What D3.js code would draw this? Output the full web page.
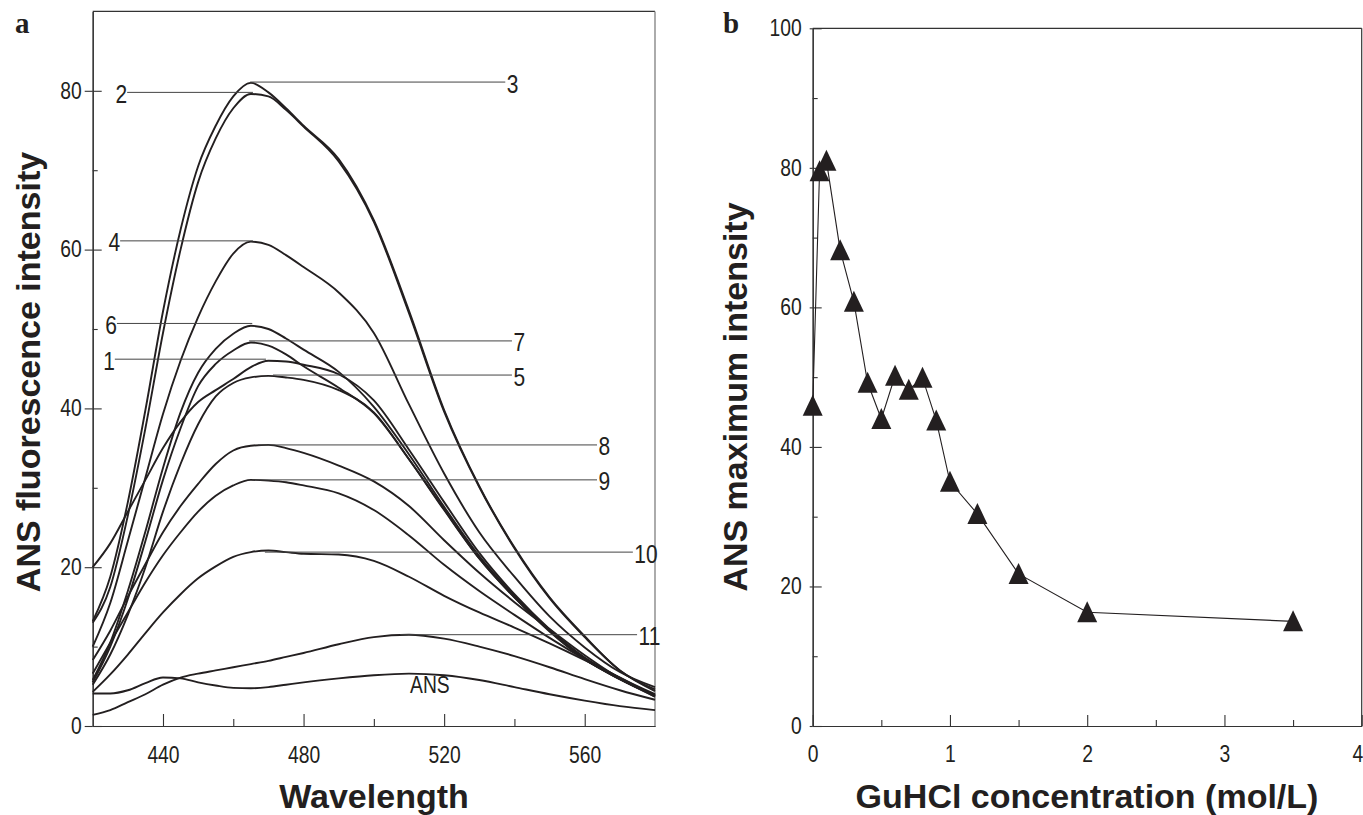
<!DOCTYPE html>
<html>
<head>
<meta charset="utf-8">
<script src="https://cdn.jsdelivr.net/npm/d3@7"></script>
<style>
  body { margin: 0; background: #fff; }
  svg { display: block; }
  .tick text { font-family: "Liberation Sans", Arial, sans-serif; font-size: 23px; fill: #231f20; }
  .title { font-family: "Liberation Sans", Arial, sans-serif; font-weight: bold; font-size: 34px; fill: #231f20; }
  .panel { font-family: "Liberation Serif", "Times New Roman", serif; font-weight: bold; font-size: 29px; fill: #231f20; }
  .lab { font-family: "Liberation Sans", Arial, sans-serif; font-size: 25px; fill: #231f20; }
</style>
</head>
<body>
<svg id="chart" width="1363" height="815"></svg>
<script>
// panel a: emission spectra
var wavelengths = [420,425,430,435,440,445,450,455,460,465,470,475,480,490,500,510,520,530,540,550,560,570,580];
var curve1  = [20,23,27,31,35,38.3,40.8,42.3,43.7,45.2,46,45.9,45.5,44.3,41,34.8,28.2,21.8,16.6,12.2,8.6,6.1,4.0];
var curve2  = [13,17.5,26.5,37.5,49.5,60,68.5,74,77.8,79.6,79.3,77.6,75.5,71.1,63.5,52,39.6,30.1,22.4,16.1,11.2,7.0,4.4];
var curve3  = [13.2,18.8,28.2,39.8,52.2,62.5,70.5,75.6,79.3,81,79.8,77.8,75.6,71.4,63.7,52.3,39.8,30.2,22.5,16.2,11.3,7.0,4.6];
var curve4  = [10,15.5,23.3,31.3,39.3,46,51.5,56,59.5,61,60.6,59.3,57.8,54.6,49.5,40.5,31.8,24.4,18.8,13.8,9.9,6.8,4.9];
var curve5  = [5.2,9,14,20,27,33,38,41.5,43.2,43.9,44.1,43.9,43.6,42.3,39.5,33.6,27.3,21.1,16.2,12,8.4,5.9,3.7];
var curve6  = [5.8,10.5,17,24.5,32.5,39.5,44.5,47.5,49.4,50.4,50,48.8,47.4,44.6,40.2,34.2,27.6,21.4,16.4,12.1,8.6,6.0,3.9];
var curve7  = [5.5,10,16,23.3,31,37.5,42.8,45.6,47.3,48.3,47.9,46.8,45.3,42.6,39.4,33.6,27.2,21.1,16.2,11.9,8.4,5.9,3.8];
var curve8  = [8.3,12,16.3,20.4,24.4,27.7,30.5,33,34.7,35.3,35.4,35,34.4,32.8,30.8,27.7,23.4,19.3,15.6,12.2,8.9,6.0,3.9];
var curve9  = [6.6,10.5,14.3,18.1,21.5,24.4,27,29,30.3,31,30.9,30.7,30.3,29.3,27.2,24,20.3,17,14,11.1,8.4,5.9,3.8];
var curve10 = [4.3,6.5,9,11.7,14.3,16.6,18.6,20.1,21.3,21.9,22.1,21.9,21.7,21.6,20.8,18.8,16.4,14.3,12.4,10.4,8.3,6.1,3.7];
var curve11 = [1.4,2,3,4,5.2,6.1,6.6,7,7.4,7.8,8.2,8.7,9.2,10.3,11.2,11.5,11,10,8.8,7.4,5.9,4.5,3.3];
var curveANS = [4.1,4.1,4.5,5.4,6.1,6.0,5.5,5.1,4.8,4.75,4.9,5.2,5.5,6.0,6.4,6.6,6.4,5.8,4.9,4.0,3.2,2.5,2.0];
var spectra = [curve1,curve2,curve3,curve4,curve5,curve6,curve7,curve8,curve9,curve10,curve11,curveANS];

// leader lines and their labels
var leaderLabels = ["1","2","3","4","5","6","7","8","9","10","11"];
var leaderLevels = [46.2,79.8,81.1,61.1,44.2,50.7,48.5,35.4,31.0,21.9,11.5];
var leaderStart  = [426.3,429.8,464.8,427.8,471.3,426.9,464.5,467,465.4,469,507.5];
var leaderEnd    = [469.3,465.6,537.4,465.6,539.3,465.4,539.3,563.5,563.5,573.7,574.9];
var leaderSide   = ["left","left","right","left","right","left","right","right","right","right","right"];
var ansLabel = {w: 510.3, v: 4.2};

var xTicksA = [440,480,520,560];
var xMinorA = [460,500,540];
var yTicksA = [0,20,40,60,80];
var yMinorA = [10,30,50,70];

// panel b: maximum intensity vs GuHCl
var guhcl = [0,0.05,0.1,0.2,0.3,0.4,0.5,0.6,0.7,0.8,0.9,1.0,1.2,1.5,2.0,3.5];
var maxIntensity = [45.9,79.5,81,68.2,60.8,49.2,44,50.2,48.2,49.9,43.8,35.0,30.4,21.8,16.3,15.0];
var xTicksB = [0,1,2,3,4];
var xMinorB = [0.5,1.5,2.5,3.5];
var yTicksB = [0,20,40,60,80,100];
var yMinorB = [10,30,50,70,90];

var ink = "#231f20";
var narrow = 0.84;
var svg = d3.select("#chart");

// the original uses a condensed face; squeeze the text horizontally
function squeeze(sel){
  sel.each(function(){
    var t = d3.select(this);
    var x = +t.attr("x") || 0, y = +t.attr("y") || 0;
    t.attr("x",0).attr("y",0)
     .attr("transform","translate("+x+","+y+") scale("+narrow+",1)");
  });
}

function styleAxis(a){
  a.select(".domain").attr("stroke","#333").attr("stroke-width",1.2);
  a.selectAll(".tick line").attr("stroke","#333").attr("stroke-width",1.1);
  squeeze(a.selectAll(".tick text"));
}

// ---------- panel a ----------
var xA = d3.scaleLinear().domain([420,580]).range([92.7,655]);
var yA = d3.scaleLinear().domain([0,90]).range([726,11.4]);

var gA = svg.append("g");

// frame (top and right)
gA.append("line").attr("x1",xA(420)).attr("x2",xA(580)).attr("y1",yA(90)).attr("y2",yA(90))
  .attr("stroke","#333").attr("stroke-width",1.2);
gA.append("line").attr("x1",xA(580)).attr("x2",xA(580)).attr("y1",yA(90)).attr("y2",yA(0))
  .attr("stroke","#888").attr("stroke-width",1.4);

var axA = gA.append("g").attr("transform","translate(0,"+yA(0)+")")
  .call(d3.axisBottom(xA).tickValues(xTicksA).tickSizeInner(-12).tickSizeOuter(0).tickPadding(21));
var axAm = gA.append("g").attr("transform","translate(0,"+yA(0)+")")
  .call(d3.axisBottom(xA).tickValues(xMinorA).tickSizeInner(-7).tickSizeOuter(0).tickFormat(""));
var ayA = gA.append("g").attr("transform","translate("+xA(420)+",0)")
  .call(d3.axisLeft(yA).tickValues(yTicksA).tickSizeInner(-9).tickSizeOuter(0).tickPadding(11));
ayA.selectAll(".tick").append("line").attr("x2",-8);
var ayAm = gA.append("g").attr("transform","translate("+xA(420)+",0)")
  .call(d3.axisLeft(yA).tickValues(yMinorA).tickSizeInner(-5).tickSizeOuter(0).tickFormat(""));
[axA,axAm,ayA,ayAm].forEach(styleAxis);

var lineA = d3.line()
  .x(function(d,i){ return xA(wavelengths[i]); })
  .y(function(d){ return yA(d); })
  .curve(d3.curveMonotoneX);

gA.selectAll("path.spec").data(spectra).enter().append("path")
  .attr("class","spec")
  .attr("d", lineA)
  .attr("fill","none")
  .attr("stroke", ink)
  .attr("stroke-width", 1.9);

leaderLabels.forEach(function(lab,i){
  var y = yA(leaderLevels[i]);
  gA.append("line")
    .attr("x1",xA(leaderStart[i])).attr("x2",xA(leaderEnd[i]))
    .attr("y1",y).attr("y2",y)
    .attr("stroke","#444").attr("stroke-width",1);
  var left = leaderSide[i] === "left";
  gA.append("text").attr("class","lab")
    .attr("x", left ? xA(leaderStart[i]) : xA(leaderEnd[i]) + 1.5)
    .attr("y", y + 10.5)
    .attr("text-anchor", left ? "end" : "start")
    .text(lab);
});
gA.append("text").attr("class","lab").style("font-size","23px")
  .attr("x",xA(ansLabel.w)).attr("y",yA(ansLabel.v)).text("ANS");
squeeze(gA.selectAll("text.lab"));

gA.append("text").attr("class","title")
  .attr("transform","translate(40,372) rotate(-90)")
  .attr("text-anchor","middle").text("ANS fluorescence intensity");
gA.append("text").attr("class","title")
  .attr("x",374).attr("y",808).attr("text-anchor","middle").text("Wavelength");
gA.append("text").attr("class","panel").attr("x",15).attr("y",33).text("a");

// ---------- panel b ----------
var xB = d3.scaleLinear().domain([0,4]).range([812.7,1361.7]);
var yB = d3.scaleLinear().domain([0,100]).range([726,28.3]);
var gB = svg.append("g");

gB.append("line").attr("x1",xB(0)).attr("x2",xB(4)).attr("y1",yB(100)).attr("y2",yB(100))
  .attr("stroke","#333").attr("stroke-width",1.2);
gB.append("line").attr("x1",xB(4)).attr("x2",xB(4)).attr("y1",yB(100)).attr("y2",yB(0))
  .attr("stroke","#333").attr("stroke-width",1.2);

var axB = gB.append("g").attr("transform","translate(0,"+yB(0)+")")
  .call(d3.axisBottom(xB).tickValues(xTicksB).tickFormat(d3.format("d"))
    .tickSizeInner(-11).tickSizeOuter(0).tickPadding(19.5));
// last label sits on the page edge: keep it inside
axB.selectAll(".tick text").filter(function(d){ return d === 4; })
  .attr("text-anchor","end").attr("x",1);
var axBm = gB.append("g").attr("transform","translate(0,"+yB(0)+")")
  .call(d3.axisBottom(xB).tickValues(xMinorB).tickSizeInner(-6).tickSizeOuter(0).tickFormat(""));
var ayB = gB.append("g").attr("transform","translate("+xB(0)+",0)")
  .call(d3.axisLeft(yB).tickValues(yTicksB).tickSizeInner(-9).tickSizeOuter(0).tickPadding(11));
ayB.selectAll(".tick").append("line").attr("x2",-3);
var ayBm = gB.append("g").attr("transform","translate("+xB(0)+",0)")
  .call(d3.axisLeft(yB).tickValues(yMinorB).tickSizeInner(-5).tickSizeOuter(0).tickFormat(""));
[axB,axBm,ayB,ayBm].forEach(styleAxis);

var lineB = d3.line()
  .x(function(d,i){ return xB(guhcl[i]); })
  .y(function(d){ return yB(d); });
gB.append("path").datum(maxIntensity).attr("d",lineB)
  .attr("fill","none").attr("stroke",ink).attr("stroke-width",1.1);

gB.selectAll("path.tri").data(maxIntensity).enter().append("path")
  .attr("class","tri")
  .attr("transform",function(d,i){ return "translate("+xB(guhcl[i])+","+yB(d)+")"; })
  .attr("d","M0,-11L10,10L-10,10Z")
  .attr("fill",ink);

gB.append("text").attr("class","title")
  .attr("transform","translate(747,397) rotate(-90)")
  .attr("text-anchor","middle").text("ANS maximum intensity");
gB.append("text").attr("class","title")
  .attr("x",1087).attr("y",808).attr("text-anchor","middle").text("GuHCl concentration (mol/L)");
gB.append("text").attr("class","panel").attr("x",723).attr("y",33).text("b");
</script>
</body>
</html>
